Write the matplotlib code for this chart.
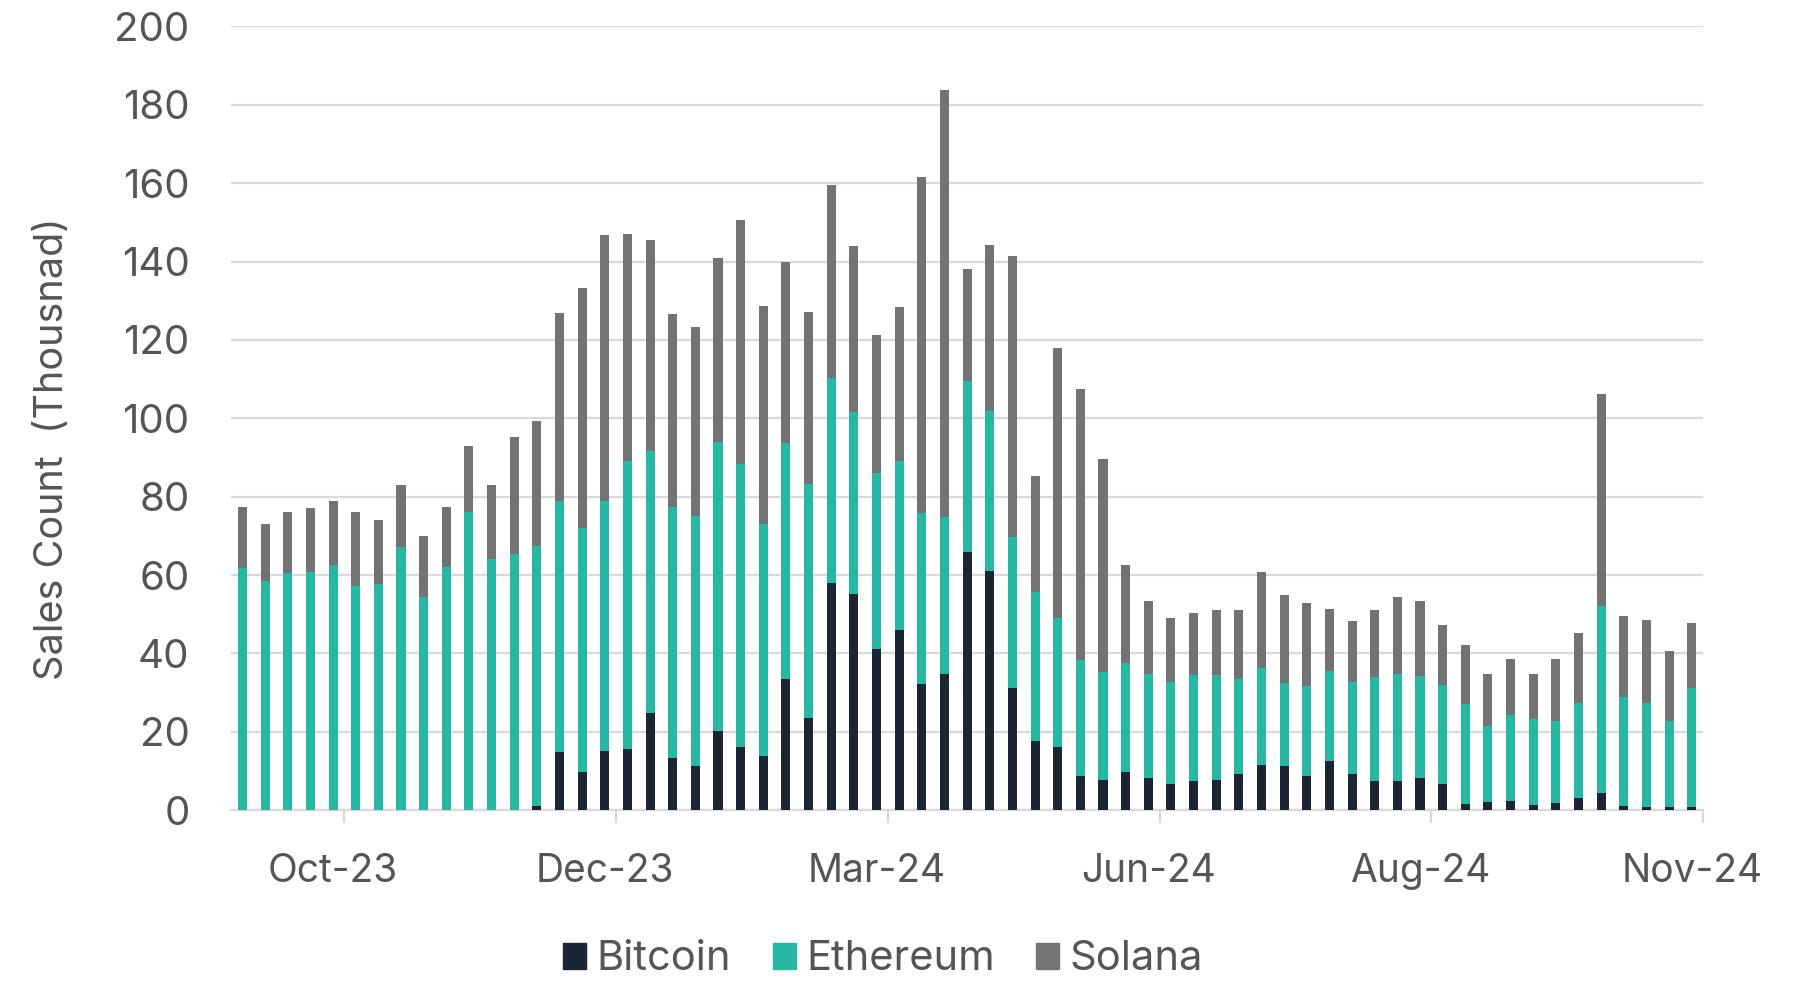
import numpy as np
import matplotlib.pyplot as plt
from matplotlib.patches import Patch

# weekly NFT sales count (thousand)
bitcoin = [0, 0, 0, 0, 0, 0, 0, 0, 0, 0, 0, 0, 0, 1.1, 14.8, 9.7, 15.2,
           15.5, 24.8, 13.2, 11.2, 20.2, 16.2, 13.8, 33.6, 23.5, 58.1, 55.2,
           41.1, 45.9, 32.2, 34.8, 65.8, 61.0, 31.3, 17.7, 16.0, 8.6, 7.7,
           9.7, 8.2, 6.7, 7.4, 7.8, 9.2, 11.6, 11.3, 8.8, 12.5, 9.2, 7.4,
           7.4, 8.2, 6.7, 1.5, 2.0, 2.3, 1.3, 1.9, 3.1, 4.3, 1.1, 0.7, 0.7, 0.7]
# cumulative tops (bitcoin + ethereum)
eth_top = [61.8, 58.4, 60.6, 60.8, 62.6, 57.3, 57.6, 67.2, 54.3, 62.0, 76.2,
           64.2, 65.5, 67.4, 79.0, 71.9, 78.8, 89.0, 91.7, 77.3, 75.0, 93.9,
           88.3, 73.0, 93.7, 83.3, 110.3, 101.7, 86.0, 89.1, 75.8, 74.8,
           109.5, 101.8, 69.7, 55.7, 49.0, 38.4, 35.2, 37.5, 34.8, 32.6, 34.5,
           34.5, 33.6, 36.4, 32.4, 31.6, 35.6, 32.8, 34.1, 34.8, 34.3, 32.0,
           27.1, 21.4, 24.3, 23.2, 22.7, 27.4, 52.1, 29.0, 27.4, 22.8, 31.3]
# total (bitcoin + ethereum + solana)
total = [77.3, 73.1, 76.1, 77.0, 78.9, 76.1, 74.0, 83.1, 69.9, 77.3, 92.9,
         83.1, 95.3, 99.3, 126.8, 133.2, 146.7, 147.1, 145.6, 126.5, 123.4,
         140.8, 150.5, 128.7, 139.9, 127.2, 159.5, 144.0, 121.2, 128.4, 161.7,
         183.8, 138.0, 144.3, 141.3, 85.4, 117.9, 107.4, 89.5, 62.6, 53.4,
         49.0, 50.3, 51.2, 51.0, 60.7, 55.0, 52.9, 51.4, 48.3, 51.0, 54.5,
         53.4, 47.3, 42.2, 34.8, 38.6, 34.8, 38.6, 45.3, 106.3, 49.6, 48.6,
         40.5, 47.7]

month_labels = ['Oct-23', 'Dec-23', 'Mar-24', 'Jun-24', 'Aug-24', 'Nov-24']

bitcoin = np.array(bitcoin)
ethereum = np.array(eth_top) - bitcoin
solana = np.array(total) - np.array(eth_top)

c_btc = '#1c2533'
c_eth = '#26b8a2'
c_sol = '#737373'
txt = '#555555'

plt.rcParams['font.family'] = ['Inter', 'DejaVu Sans']

fig = plt.figure(figsize=(18.06, 9.99), dpi=100)
ax = fig.add_axes([0.128, 0.189, 0.815, 0.7845])

x = np.arange(len(total))
w = 0.4
ax.bar(x, bitcoin, w, color=c_btc, zorder=3)
ax.bar(x, ethereum, w, bottom=bitcoin, color=c_eth, zorder=3)
ax.bar(x, solana, w, bottom=np.array(eth_top), color=c_sol, zorder=3)

ax.set_xlim(-0.5, len(total) - 0.5)
ax.set_ylim(0, 200)
ax.set_yticks(np.arange(0, 201, 20))
ax.yaxis.grid(True, color='#d9d9d9', lw=1.6, zorder=0)
ax.set_axisbelow(True)

for s in ['top', 'right', 'left']:
    ax.spines[s].set_visible(False)
ax.spines['bottom'].set_color('#d9d9d9')
ax.spines['bottom'].set_linewidth(1.6)

# labels under every 12th bar, tick marks on the boundaries
ax.set_xticks(np.arange(4, 65, 12))
ax.set_xticklabels(month_labels)
ax.set_xticks(np.arange(4.5, 65, 12), minor=True)
ax.tick_params(axis='x', which='major', length=0, pad=31, labelsize=28, labelcolor=txt)
ax.tick_params(axis='x', which='minor', length=9, width=1.6, color='#d9d9d9')
ax.tick_params(axis='y', length=0, pad=30, labelsize=29, labelcolor=txt)

ax.set_ylabel('Sales Count  (Thousnad)', fontsize=28.5, color=txt)
ax.yaxis.set_label_coords(-0.109, 0.461)

handles = [Patch(color=c_btc), Patch(color=c_eth), Patch(color=c_sol)]
fig.legend(handles, ['Bitcoin', 'Ethereum', 'Solana'], loc='lower center',
           bbox_to_anchor=(0.489, -0.017), ncol=3, frameon=False, fontsize=30,
           labelcolor=txt, handlelength=0.55, handleheight=0.6,
           handletextpad=0.25, columnspacing=1.0)

fig.savefig('out.png', dpi=100, facecolor='white')
